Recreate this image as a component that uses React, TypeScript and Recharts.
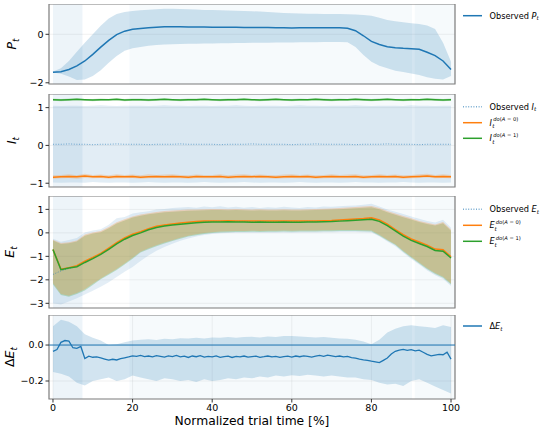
import React from "react";
import { ComposedChart, Area, Line, XAxis, YAxis, CartesianGrid, ReferenceArea, ReferenceLine } from "recharts";

const BLUE = "#1f77b4";
const ORANGE = "#ff7f0e";
const GREEN = "#2ca02c";
const FONT = "DejaVu Sans, sans-serif";

// normalized trial time, every 2 %
const trialTime = [0, 2, 4, 6, 8, 10, 12, 14, 16, 18, 20, 22, 24, 26, 28, 30, 32, 34, 36, 38, 40, 42, 44, 46, 48, 50, 52, 54, 56, 58, 60, 62, 64, 66, 68, 70, 72, 74, 76, 78, 80, 82, 84, 86, 88, 90, 92, 94, 96, 98, 100];
// every 1 % (delta E line)
const trialTimeFine = [0, 1, 2, 3, 4, 5, 6, 7, 8, 9, 10, 11, 12, 13, 14, 15, 16, 17, 18, 19, 20, 21, 22, 23, 24, 25, 26, 27, 28, 29, 30, 31, 32, 33, 34, 35, 36, 37, 38, 39, 40, 41, 42, 43, 44, 45, 46, 47, 48, 49, 50, 51, 52, 53, 54, 55, 56, 57, 58, 59, 60, 61, 62, 63, 64, 65, 66, 67, 68, 69, 70, 71, 72, 73, 74, 75, 76, 77, 78, 79, 80, 81, 82, 83, 84, 85, 86, 87, 88, 89, 90, 91, 92, 93, 94, 95, 96, 97, 98, 99, 100];
const timeTicks = [0, 20, 40, 60, 80, 100];

// P_t
const pMean = [-1.57, -1.54, -1.45, -1.3, -1.1, -0.83, -0.53, -0.25, -0.01, 0.13,
  0.21, 0.24, 0.27, 0.29, 0.31, 0.31, 0.31, 0.3, 0.3, 0.3,
  0.29, 0.29, 0.29, 0.29, 0.28, 0.28, 0.28, 0.28, 0.27, 0.27,
  0.26, 0.27, 0.27, 0.27, 0.27, 0.27, 0.27, 0.25, 0.15, -0.06,
  -0.29, -0.42, -0.51, -0.55, -0.58, -0.6, -0.62, -0.74, -0.88, -1.1,
  -1.45];
const pUpper = [-1.53, -1.4, -1.1, -0.72, -0.35, 0.0, 0.35, 0.65, 0.84, 0.92,
  0.96, 0.99, 1.01, 1.03, 1.05, 1.05, 1.04, 1.03, 1.02, 1.0,
  1.0, 0.99, 0.98, 0.97, 0.96, 0.95, 0.94, 0.92, 0.9, 0.88,
  0.87, 0.86, 0.85, 0.85, 0.84, 0.84, 0.84, 0.83, 0.82, 0.8,
  0.77, 0.68, 0.59, 0.54, 0.5, 0.46, 0.42, 0.36, 0.22, -0.35,
  -1.13];
const pLower = [-1.58, -1.63, -1.74, -1.88, -1.86, -1.72, -1.48, -1.17, -0.9, -0.68,
  -0.58, -0.52, -0.47, -0.44, -0.42, -0.41, -0.4, -0.39, -0.39, -0.38,
  -0.38, -0.37, -0.37, -0.36, -0.36, -0.35, -0.35, -0.35, -0.34, -0.34,
  -0.34, -0.33, -0.33, -0.33, -0.32, -0.32, -0.32, -0.33, -0.52, -0.85,
  -1.13, -1.3, -1.4, -1.5, -1.56, -1.62, -1.68, -1.77, -1.83, -1.86,
  -1.72];

// I_t
const iObs = [0.03, 0.03, 0.04, 0.03, 0.03, 0.02, 0.03, 0.03, 0.04, 0.03,
  0.03, 0.03, 0.02, 0.03, 0.03, 0.03, 0.04, 0.03, 0.03, 0.03,
  0.03, 0.02, 0.03, 0.03, 0.03, 0.04, 0.03, 0.03, 0.03, 0.03,
  0.02, 0.03, 0.03, 0.04, 0.03, 0.03, 0.03, 0.03, 0.02, 0.03,
  0.03, 0.03, 0.04, 0.03, 0.03, 0.03, 0.02, 0.03, 0.03, 0.03,
  0.03];
const iObsUpper = [1.05, 1.04, 1.05, 1.05, 1.04, 1.05, 1.06, 1.05, 1.04, 1.05,
  1.05, 1.05, 1.04, 1.05, 1.06, 1.05, 1.05, 1.04, 1.05, 1.05,
  1.04, 1.05, 1.05, 1.06, 1.05, 1.04, 1.05, 1.05, 1.05, 1.04,
  1.05, 1.06, 1.05, 1.05, 1.04, 1.05, 1.05, 1.05, 1.06, 1.05,
  1.04, 1.05, 1.05, 1.05, 1.04, 1.06, 1.05, 1.05, 1.04, 1.05,
  1.05];
const iObsLower = [-0.98, -0.99, -0.98, -0.98, -0.99, -0.97, -0.98, -0.99, -0.98, -0.98,
  -0.99, -0.98, -0.97, -0.98, -0.99, -0.98, -0.98, -0.99, -0.98, -0.97,
  -0.98, -0.99, -0.98, -0.98, -0.97, -0.98, -0.99, -0.98, -0.98, -0.99,
  -0.98, -0.97, -0.98, -0.99, -0.98, -0.98, -0.99, -0.98, -0.97, -0.98,
  -0.98, -0.99, -0.98, -0.98, -0.97, -0.98, -0.99, -0.98, -0.98, -0.99,
  -0.98];
const iDo0 = [-0.84, -0.83, -0.82, -0.83, -0.81, -0.83, -0.82, -0.84, -0.82, -0.83,
  -0.82, -0.84, -0.83, -0.82, -0.83, -0.82, -0.83, -0.84, -0.82, -0.83,
  -0.83, -0.82, -0.84, -0.83, -0.82, -0.83, -0.82, -0.83, -0.84, -0.83,
  -0.82, -0.83, -0.82, -0.84, -0.83, -0.82, -0.83, -0.83, -0.82, -0.84,
  -0.83, -0.82, -0.83, -0.82, -0.84, -0.83, -0.82, -0.81, -0.83, -0.82,
  -0.83];
const iDo0Upper = [-0.79, -0.78, -0.76, -0.79, -0.75, -0.78, -0.77, -0.79, -0.76, -0.78,
  -0.77, -0.79, -0.76, -0.78, -0.77, -0.76, -0.78, -0.79, -0.77, -0.78,
  -0.78, -0.76, -0.79, -0.77, -0.76, -0.78, -0.77, -0.78, -0.79, -0.77,
  -0.76, -0.78, -0.77, -0.79, -0.78, -0.76, -0.78, -0.77, -0.76, -0.79,
  -0.78, -0.76, -0.78, -0.77, -0.79, -0.78, -0.76, -0.75, -0.78, -0.76,
  -0.78];
const iDo0Lower = [-0.88, -0.87, -0.86, -0.88, -0.86, -0.87, -0.86, -0.88, -0.87, -0.87,
  -0.86, -0.88, -0.87, -0.86, -0.87, -0.86, -0.87, -0.88, -0.86, -0.87,
  -0.87, -0.86, -0.88, -0.87, -0.86, -0.87, -0.86, -0.87, -0.88, -0.87,
  -0.86, -0.87, -0.86, -0.88, -0.87, -0.86, -0.87, -0.87, -0.86, -0.88,
  -0.87, -0.86, -0.87, -0.86, -0.88, -0.87, -0.86, -0.85, -0.87, -0.86,
  -0.87];
const iDo1 = [1.21, 1.2, 1.21, 1.22, 1.21, 1.2, 1.21, 1.21, 1.22, 1.2,
  1.21, 1.21, 1.2, 1.21, 1.22, 1.21, 1.2, 1.21, 1.21, 1.22,
  1.21, 1.2, 1.21, 1.21, 1.22, 1.21, 1.2, 1.21, 1.22, 1.21,
  1.2, 1.21, 1.21, 1.22, 1.21, 1.2, 1.21, 1.21, 1.22, 1.21,
  1.2, 1.21, 1.22, 1.21, 1.2, 1.21, 1.21, 1.22, 1.21, 1.2,
  1.21];
const iDo1Upper = [1.24, 1.23, 1.24, 1.24, 1.23, 1.23, 1.24, 1.23, 1.24, 1.23,
  1.24, 1.24, 1.23, 1.24, 1.24, 1.23, 1.23, 1.24, 1.24, 1.24,
  1.23, 1.23, 1.24, 1.24, 1.24, 1.23, 1.23, 1.24, 1.24, 1.23,
  1.23, 1.24, 1.23, 1.24, 1.24, 1.23, 1.24, 1.23, 1.24, 1.24,
  1.23, 1.24, 1.24, 1.23, 1.23, 1.24, 1.23, 1.24, 1.24, 1.23,
  1.24];
const iDo1Lower = [1.18, 1.17, 1.18, 1.19, 1.18, 1.17, 1.18, 1.18, 1.19, 1.17,
  1.18, 1.18, 1.17, 1.18, 1.19, 1.18, 1.17, 1.18, 1.18, 1.19,
  1.18, 1.17, 1.18, 1.18, 1.19, 1.18, 1.17, 1.18, 1.19, 1.18,
  1.17, 1.18, 1.18, 1.19, 1.18, 1.17, 1.18, 1.18, 1.19, 1.18,
  1.17, 1.18, 1.19, 1.18, 1.17, 1.18, 1.18, 1.19, 1.18, 1.17,
  1.18];

// E_t
const eObs = [-1.77, -1.62, -1.52, -1.42, -1.23, -1.07, -0.89, -0.67, -0.44, -0.24,
  -0.08, 0.03, 0.16, 0.26, 0.32, 0.36, 0.4, 0.43, 0.46, 0.48,
  0.49, 0.49, 0.5, 0.49, 0.49, 0.48, 0.49, 0.48, 0.48, 0.49,
  0.48, 0.48, 0.49, 0.49, 0.5, 0.51, 0.53, 0.55, 0.57, 0.59,
  0.62, 0.53, 0.35, 0.12, -0.1, -0.28, -0.41, -0.54, -0.7, -0.73,
  -1.04];
const eDo0 = [-0.71, -1.55, -1.48, -1.4, -1.21, -1.05, -0.87, -0.65, -0.42, -0.22,
  -0.06, 0.05, 0.18, 0.28, 0.34, 0.38, 0.42, 0.45, 0.48, 0.5,
  0.51, 0.51, 0.52, 0.51, 0.51, 0.5, 0.51, 0.5, 0.5, 0.51,
  0.5, 0.5, 0.51, 0.51, 0.52, 0.53, 0.55, 0.57, 0.59, 0.61,
  0.64, 0.55, 0.37, 0.14, -0.08, -0.26, -0.39, -0.52, -0.69, -0.72,
  -1.02];
const eDo1 = [-0.71, -1.57, -1.5, -1.44, -1.26, -1.1, -0.92, -0.7, -0.47, -0.27,
  -0.11, 0.0, 0.13, 0.23, 0.29, 0.33, 0.37, 0.4, 0.43, 0.45,
  0.46, 0.46, 0.47, 0.46, 0.46, 0.45, 0.46, 0.45, 0.45, 0.46,
  0.45, 0.45, 0.46, 0.46, 0.47, 0.48, 0.5, 0.52, 0.54, 0.56,
  0.58, 0.49, 0.31, 0.08, -0.14, -0.32, -0.45, -0.58, -0.75, -0.78,
  -1.07];
const eObsUpper = [-0.25, -0.38, -0.3, -0.22, 0.02, 0.1, 0.15, 0.35, 0.62, 0.68,
  0.82, 0.88, 0.92, 1.0, 1.02, 1.06, 1.08, 1.1, 1.07, 1.12,
  1.09, 1.13, 1.08, 1.11, 1.07, 1.1, 1.06, 1.09, 1.07, 1.11,
  1.08, 1.06, 1.1, 1.08, 1.12, 1.11, 1.13, 1.15, 1.17, 1.2,
  1.24, 1.12, 1.0, 0.9, 0.8, 0.7, 0.6, 0.5, 0.44, 0.56,
  0.22];
const eObsLower = [-3.0, -3.05, -2.92, -2.78, -2.62, -2.46, -2.3, -2.1, -1.88, -1.66,
  -1.45, -1.2, -0.96, -0.76, -0.6, -0.46, -0.34, -0.24, -0.16, -0.09,
  -0.05, -0.02, -0.01, 0.0, 0.0, 0.01, 0.0, 0.01, 0.01, 0.02,
  0.01, 0.02, 0.02, 0.02, 0.03, 0.03, 0.04, 0.04, 0.04, 0.03,
  0.02, -0.16, -0.37, -0.57, -0.85, -1.11, -1.35, -1.6, -1.8, -1.96,
  -2.26];
const eDo0Upper = [-0.29, -0.43, -0.4, -0.33, -0.07, 0.02, 0.08, 0.25, 0.45, 0.58,
  0.7, 0.78, 0.84, 0.89, 0.93, 0.95, 0.97, 0.99, 1.0, 1.01,
  1.02, 1.02, 1.01, 1.02, 1.01, 1.0, 1.01, 1.0, 1.0, 1.01,
  1.0, 1.0, 1.01, 1.02, 1.03, 1.04, 1.06, 1.08, 1.1, 1.12,
  1.14, 1.06, 0.93, 0.82, 0.72, 0.62, 0.51, 0.43, 0.36, 0.46,
  0.14];
const eDo0Lower = [-2.15, -2.6, -2.68, -2.56, -2.4, -2.17, -1.94, -1.74, -1.54, -1.31,
  -1.06, -0.8, -0.66, -0.53, -0.41, -0.31, -0.21, -0.12, -0.06, -0.01,
  0.03, 0.06, 0.07, 0.08, 0.08, 0.09, 0.08, 0.09, 0.09, 0.1,
  0.09, 0.1, 0.1, 0.1, 0.11, 0.11, 0.12, 0.12, 0.12, 0.11,
  0.1, -0.08, -0.29, -0.48, -0.76, -1.02, -1.26, -1.51, -1.71, -1.87,
  -2.16];
const eDo1Upper = [-0.32, -0.47, -0.44, -0.37, -0.12, -0.03, 0.03, 0.2, 0.4, 0.53,
  0.65, 0.73, 0.79, 0.84, 0.88, 0.9, 0.92, 0.94, 0.95, 0.96,
  0.97, 0.97, 0.96, 0.97, 0.96, 0.95, 0.96, 0.95, 0.95, 0.96,
  0.95, 0.95, 0.96, 0.97, 0.98, 0.99, 1.01, 1.03, 1.05, 1.07,
  1.09, 1.01, 0.88, 0.77, 0.67, 0.57, 0.46, 0.38, 0.31, 0.41,
  0.09];
const eDo1Lower = [-2.2, -2.65, -2.72, -2.6, -2.45, -2.22, -1.98, -1.78, -1.58, -1.35,
  -1.1, -0.84, -0.7, -0.57, -0.45, -0.35, -0.25, -0.16, -0.1, -0.05,
  -0.01, 0.02, 0.03, 0.04, 0.04, 0.05, 0.04, 0.05, 0.05, 0.06,
  0.05, 0.06, 0.06, 0.06, 0.07, 0.07, 0.08, 0.08, 0.08, 0.07,
  0.06, -0.12, -0.33, -0.52, -0.8, -1.06, -1.3, -1.55, -1.75, -1.91,
  -2.2];

// delta E_t
const dMean = [-0.035, -0.025, 0.015, 0.025, 0.022, -0.015, -0.018, -0.008, -0.075, -0.062,
  -0.068, -0.066, -0.072, -0.078, -0.084, -0.079, -0.083, -0.076, -0.071, -0.066,
  -0.06, -0.063, -0.058, -0.064, -0.061, -0.066, -0.059, -0.063, -0.067, -0.06,
  -0.064, -0.058, -0.066, -0.062, -0.069, -0.061, -0.065, -0.059, -0.067, -0.063,
  -0.066, -0.06, -0.068, -0.064, -0.062, -0.069, -0.063, -0.066, -0.061, -0.067,
  -0.064, -0.062, -0.068, -0.065, -0.061, -0.066, -0.063, -0.069, -0.064, -0.062,
  -0.067, -0.061, -0.065, -0.06, -0.063, -0.067, -0.062, -0.058, -0.063, -0.056,
  -0.06, -0.064, -0.061, -0.066, -0.063, -0.07, -0.073, -0.078, -0.082, -0.085,
  -0.09, -0.094, -0.098, -0.085, -0.072, -0.05, -0.035, -0.028, -0.024, -0.03,
  -0.026, -0.032, -0.028, -0.04, -0.052, -0.06, -0.056, -0.052, -0.054, -0.04,
  -0.078];
const dUpper = [0.105, 0.14, 0.13, 0.105, 0.06, 0.04, 0.025, 0.0, 0.005, 0.015,
  0.025, 0.03, 0.032, 0.028, 0.035, 0.032, 0.038, 0.036, 0.04, 0.037,
  0.042, 0.04, 0.045, 0.041, 0.044, 0.046, 0.042, 0.048, 0.045, 0.05,
  0.05, 0.047, 0.045, 0.042, 0.044, 0.04, 0.037, 0.035, 0.03, 0.02,
  0.005, 0.03, 0.07, 0.09, 0.105, 0.11, 0.105, 0.1, 0.095, 0.11,
  0.1];
const dLower = [-0.15, -0.16, -0.175, -0.21, -0.225, -0.2, -0.19, -0.18, -0.2, -0.19,
  -0.17, -0.18, -0.19, -0.2, -0.185, -0.19, -0.2, -0.195, -0.205, -0.19,
  -0.2, -0.195, -0.185, -0.19, -0.18, -0.185, -0.175, -0.18, -0.17, -0.175,
  -0.168, -0.172, -0.165, -0.17, -0.175, -0.17, -0.175, -0.18, -0.18, -0.19,
  -0.195, -0.21, -0.22, -0.215, -0.228, -0.2, -0.19, -0.21, -0.23, -0.25,
  -0.27];

const pRows = trialTime.map((t, i) => ({ t, mean: pMean[i], band: [pLower[i], pUpper[i]] }));
const iRows = trialTime.map((t, i) => ({
  t, obs: iObs[i], do0: iDo0[i], do1: iDo1[i],
  obsBand: [iObsLower[i], iObsUpper[i]], do0Band: [iDo0Lower[i], iDo0Upper[i]], do1Band: [iDo1Lower[i], iDo1Upper[i]],
}));
const eRows = trialTime.map((t, i) => ({
  t, obs: eObs[i], do0: eDo0[i], do1: eDo1[i],
  obsBand: [eObsLower[i], eObsUpper[i]], do0Band: [eDo0Lower[i], eDo0Upper[i]], do1Band: [eDo1Lower[i], eDo1Upper[i]],
}));
const dBandRows = trialTime.map((t, i) => ({ t, band: [dLower[i], dUpper[i]] }));
const dLineRows = trialTimeFine.map((t, i) => ({ t, mean: dMean[i] }));

const minus = (v: number) => (v < 0 ? "\u2212" + Math.abs(v) : String(v));
const minusDec = (v: number) => (v < 0 ? "\u2212" + Math.abs(v).toFixed(1) : v.toFixed(1));

const tickStyle = { fontSize: 9.5, fill: "#000", fontFamily: FONT };

function Panel({ top, plotHeight, domain, ticks, fmt, last, data, children }: any) {
  const axisH = last ? 33 : 5;
  return (
    <div style={{ position: "absolute", left: 0, top }}>
      <ComposedChart width={550} height={plotHeight + axisH} data={data} margin={{ top: 0, right: 95, bottom: 0, left: 0 }} style={{ overflow: "visible" }}>
        <ReferenceArea x1={0} x2={7.4} fill={BLUE} fillOpacity={0.08} stroke="none" />
        <ReferenceArea x1={19.2} x2={90.2} fill={BLUE} fillOpacity={0.04} stroke="none" />
        <ReferenceArea x1={90.9} x2={101} fill={BLUE} fillOpacity={0.04} stroke="none" />
        <CartesianGrid stroke="#b0b0b0" strokeOpacity={0.3} strokeWidth={0.6} />
        <XAxis
          type="number" dataKey="t" domain={[-1, 101]} ticks={timeTicks} allowDataOverflow
          axisLine={false} tickLine={{ stroke: "#333" }} tickSize={3.5}
          tick={last ? tickStyle : false} height={axisH}
          label={last ? { value: "Normalized trial time [%]", position: "insideBottom", offset: 7, fontSize: 12.3, fill: "#000", fontFamily: FONT } : undefined}
        />
        <YAxis
          type="number" domain={domain} ticks={ticks} allowDataOverflow width={49}
          axisLine={false} tickLine={{ stroke: "#333" }} tickSize={3.5}
          tick={tickStyle} tickFormatter={fmt}
        />
        {children}
        <ReferenceArea x1={-1} x2={101} y1={domain[0]} y2={domain[1]} fill="none" stroke="#808080" strokeWidth={1.2} />
      </ComposedChart>
    </div>
  );
}

const band = (key: string, color: string, opacity: number, data?: any[]) => (
  <Area key={key} data={data} dataKey={key} type="linear" stroke="none" fill={color} fillOpacity={opacity} dot={false} activeDot={false} isAnimationActive={false} />
);

const line = (key: string, color: string, width: number, dash?: string, opacity = 1) => (
  <Line key={key} dataKey={key} type="linear" stroke={color} strokeWidth={width} strokeDasharray={dash} strokeOpacity={opacity} dot={false} activeDot={false} isAnimationActive={false} />
);

function YLabel({ x, y, delta, sym }: { x: number; y: number; delta?: boolean; sym: string }) {
  return (
    <text transform={`translate(${x},${y}) rotate(-90)`} textAnchor="middle" fontSize={12.5} fontFamily={FONT} fill="#000">
      {delta ? <tspan>Δ</tspan> : null}
      <tspan fontStyle="italic">{sym}</tspan>
      <tspan fontStyle="italic" fontSize={8.8} dy={2.6}>t</tspan>
    </text>
  );
}

function LegendMark({ y, color, dash, opacity = 1 }: { y: number; color: string; dash?: string; opacity?: number }) {
  return <line x1={463} x2={482} y1={y} y2={y} stroke={color} strokeWidth={1.5} strokeDasharray={dash} strokeOpacity={opacity} />;
}

function ObservedText({ y, sym }: { y: number; sym: string }) {
  return (
    <text x={489.5} y={y + 2.9} fontSize={8.2} fontFamily={FONT} fill="#000">
      {sym === "ΔE" ? <tspan>Δ</tspan> : "Observed "}
      <tspan fontStyle="italic">{sym === "ΔE" ? "E" : sym}</tspan>
      <tspan fontStyle="italic" fontSize={5.7} dy={1.8}>t</tspan>
    </text>
  );
}

function DoText({ y, sym, a }: { y: number; sym: string; a: number }) {
  const off = sym === "E" ? 5.6 : 3.2;
  return (
    <g fontFamily={FONT} fill="#000">
      <text x={489.5} y={y + 2.9} fontSize={8.2} fontStyle="italic">{sym}</text>
      <text x={489.5 + off - 0.5} y={y + 5.2} fontSize={5.7} fontStyle="italic">t</text>
      <text x={489.5 + off + 0.6} y={y - 1.6} fontSize={5.2}>
        <tspan fontStyle="italic">do</tspan>(<tspan fontStyle="italic">A</tspan> = {a})
      </text>
    </g>
  );
}

export default function App() {
  return (
    <div style={{ position: "absolute", left: 0, top: 0, width: 550, height: 432, background: "#fff", fontFamily: FONT }}>
      <Panel top={4} plotHeight={80} domain={[-2.05, 1.25]} ticks={[-2, 0]} fmt={minus} data={pRows}>
        {band("band", BLUE, 0.2)}
        {line("mean", BLUE, 1.5)}
      </Panel>
      <Panel top={94} plotHeight={93} domain={[-1.1, 1.36]} ticks={[-1, 0, 1]} fmt={minus} data={iRows}>
        {band("obsBand", BLUE, 0.13)}
        {band("do1Band", GREEN, 0.22)}
        {band("do0Band", ORANGE, 0.22)}
        {line("obs", BLUE, 1, "1 1.6", 0.6)}
        {line("do0", ORANGE, 1.5)}
        {line("do1", GREEN, 1.5)}
      </Panel>
      <Panel top={196} plotHeight={112} domain={[-3.2, 1.57]} ticks={[-3, -2, -1, 0, 1]} fmt={minus} data={eRows}>
        {band("obsBand", BLUE, 0.12)}
        {band("do1Band", GREEN, 0.25)}
        {band("do0Band", ORANGE, 0.25)}
        {line("obs", BLUE, 1, "1 1.6", 0.6)}
        {line("do0", ORANGE, 1.5)}
        {line("do1", GREEN, 1.5)}
      </Panel>
      <Panel top={315} plotHeight={84} domain={[-0.3, 0.167]} ticks={[-0.2, 0]} fmt={minusDec} data={dLineRows} last>
        {band("band", BLUE, 0.2, dBandRows)}
        <ReferenceLine y={0} stroke={BLUE} strokeWidth={1} />
        {line("mean", BLUE, 1.3)}
      </Panel>
      <svg width={550} height={432} style={{ position: "absolute", left: 0, top: 0, pointerEvents: "none" }}>
        <YLabel x={16} y={44} sym="P" />
        <YLabel x={16} y={140.5} sym="I" />
        <YLabel x={14} y={252} sym="E" />
        <YLabel x={14} y={357} sym="E" delta />
        <LegendMark y={15.7} color={BLUE} />
        <ObservedText y={15.7} sym="P" />
        <LegendMark y={106.7} color={BLUE} dash="1 1.6" opacity={0.6} />
        <ObservedText y={106.7} sym="I" />
        <LegendMark y={122.7} color={ORANGE} />
        <DoText y={122.7} sym="I" a={0} />
        <LegendMark y={138.3} color={GREEN} />
        <DoText y={138.3} sym="I" a={1} />
        <LegendMark y={209.3} color={BLUE} dash="1 1.6" opacity={0.6} />
        <ObservedText y={209.3} sym="E" />
        <LegendMark y={225.3} color={ORANGE} />
        <DoText y={225.3} sym="E" a={0} />
        <LegendMark y={241.3} color={GREEN} />
        <DoText y={241.3} sym="E" a={1} />
        <LegendMark y={326} color={BLUE} />
        <ObservedText y={326} sym="ΔE" />
      </svg>
    </div>
  );
}
